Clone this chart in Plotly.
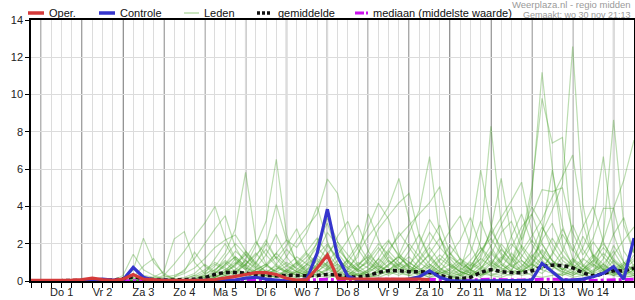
import pandas as pd
import plotly.graph_objects as go

# ---------------- data ----------------
start_time = "2022-11-30 18:00"
n_steps = 60
times = pd.date_range(start_time, periods=n_steps, freq="6h")

day_labels = ["Do 1", "Vr 2", "Za 3", "Zo 4", "Ma 5", "Di 6", "Wo 7",
              "Do 8", "Vr 9", "Za 10", "Zo 11", "Ma 12", "Di 13", "Wo 14"]
day_label_times = pd.date_range("2022-12-01 12:00", periods=14, freq="D")
midnights = pd.date_range("2022-12-01 00:00", periods=15, freq="D")

oper = [0.03, 0.03, 0.03, 0.03, 0.05, 0.08, 0.15, 0.08, 0.03, 0.1,
        0.35, 0.1, 0.05, 0.03, 0.03, 0.03, 0.03, 0.05, 0.08, 0.15,
        0.25, 0.35, 0.45, 0.45, 0.35, 0.15, 0.05, 0.08, 0.7, 1.39,
        0.15, 0.12, 0.1, 0.08, 0.1, 0.1, 0.08, 0.1, 0.1, 0.08,
        None, None, None, None, None, None, None, None, None, None,
        None, None, None, None, None, None, None, None, None, None]

controle = [0, 0, 0, 0, 0.02, 0.02, 0.05, 0.1, 0.05, 0.05,
            0.73, 0.2, 0.05, 0.02, 0.02, 0.02, 0.02, 0.03, 0.05, 0.05,
            0.05, 0.15, 0.2, 0.1, 0.03, 0, 0.02, 0.1, 1.5, 3.85,
            1.3, 0.25, 0.05, 0.03, 0.02, 0.02, 0.03, 0.1, 0.23, 0.55,
            0.2, 0.02, 0, 0, 0, 0, 0, 0, 0.02, 0.05,
            0.95, 0.5, 0.05, 0.05, 0.1, 0.23, 0.41, 0.77, 0.1, 2.3]

gemiddelde = [0.02, 0.02, 0.02, 0.02, 0.03, 0.03, 0.05, 0.04, 0.05, 0.12,
              0.2, 0.12, 0.08, 0.06, 0.06, 0.08, 0.1, 0.18, 0.35, 0.45,
              0.45, 0.42, 0.35, 0.3, 0.28, 0.3, 0.3, 0.28, 0.3, 0.35,
              0.32, 0.25, 0.22, 0.3, 0.45, 0.55, 0.55, 0.5, 0.5, 0.45,
              0.3, 0.18, 0.14, 0.2, 0.45, 0.6, 0.5, 0.45, 0.45, 0.55,
              0.75, 0.85, 0.82, 0.7, 0.45, 0.3, 0.4, 0.55, 0.55, 0.7]

mediaan = [0, 0, 0, 0, 0, 0, 0, 0, 0, 0,
           0, 0, 0, 0, 0, 0, 0, 0, 0.02, 0.05,
           0.05, 0.08, 0.05, 0.03, 0.05, 0.05, 0.03, 0.05, 0.08, 0.1,
           0.05, 0.03, 0.05, 0.08, 0.1, 0.1, 0.08, 0.05, 0.05, 0.1,
           0.05, 0.02, 0.02, 0.03, 0.08, 0.1, 0.08, 0.05, 0.05, 0.08,
           0.1, 0.1, 0.08, 0.05, 0.05, 0.03, 0.05, 0.05, 0.08, 0.1]

lid01 = [0, 0, 0, 0, 0, 0, 0.05, 0, 0, 0.3, 1.43, 0.6, 0.3, 0.1, 0, 0, 0.1, 0.3, 0.8, 1.5,
         2.8, 5.83, 2.2, 0.9, 0.4, 0.2, 0.1, 0.5, 1.2, 0.8, 0.3, 0.2, 0.6, 1.1, 1.8, 1.0, 0.6, 0.4, 0.9, 1.4,
         0.7, 0.3, 0.1, 0.4, 2.2, 8.3, 3.1, 1.2, 0.5, 0.9, 1.6, 0.8, 0.4, 1.1, 0.6, 0.3, 2.4, 8.64, 3.0, 1.5]
lid02 = [0, 0, 0, 0, 0, 0, 0, 0, 0, 0.1, 0.6, 2.3, 1.0, 0.4, 0.1, 0, 0, 0.1, 0.4, 0.9,
         1.3, 0.8, 1.9, 3.2, 6.53, 2.5, 0.9, 0.4, 0.2, 0.6, 1.1, 0.7, 0.3, 0.5, 1.2, 2.1, 1.4, 2.6, 3.8, 6.67,
         2.4, 0.8, 0.3, 0.2, 0.6, 1.5, 0.9, 0.5, 1.8, 4.6, 11.2, 6.1, 2.0, 0.8, 0.4, 0.2, 0.5, 1.1, 0.6, 0.3]
lid03 = [0, 0, 0, 0, 0, 0, 0, 0, 0, 0, 0.2, 0.8, 1.2, 0.3, 0.1, 0, 0, 0, 0.2, 0.5,
         0.9, 1.4, 0.8, 0.4, 0.6, 1.3, 2.2, 2.9, 3.6, 5.47, 4.7, 2.3, 0.8, 0.4, 0.3, 0.6, 1.0, 0.7, 0.4, 0.2,
         0.5, 1.3, 0.9, 0.4, 0.2, 0.6, 1.2, 2.0, 1.4, 0.8, 2.6, 3.8, 5.2, 12.57, 4.1, 1.3, 0.6, 0.3, 0.8, 1.2]
lid04 = [0, 0, 0, 0, 0, 0, 0, 0, 0, 0, 0, 0.1, 0.2, 0.5, 2.25, 2.65, 1.0, 0.4, 0.6, 1.1,
         0.7, 0.4, 1.0, 1.7, 0.9, 0.5, 0.3, 0.8, 1.4, 2.0, 1.2, 0.6, 1.5, 2.4, 3.1, 4.0, 5.5, 3.3, 1.6, 0.9,
         0.5, 0.3, 0.2, 0.6, 1.4, 2.7, 1.8, 1.0, 2.3, 5.0, 9.8, 7.4, 7.7, 2.0, 0.8, 0.4, 0.9, 1.6, 0.7, 0.4]
lid05 = [0, 0, 0, 0, 0, 0, 0, 0, 0, 0, 0, 0, 0.1, 0.2, 0.3, 0.5, 1.55, 0.8, 0.4, 0.9,
         1.6, 1.1, 0.6, 0.9, 1.5, 2.2, 1.8, 2.6, 4.0, 2.1, 0.9, 0.5, 0.3, 0.2, 0.5, 0.9, 1.3, 0.8, 0.5, 1.1,
         1.8, 1.2, 0.6, 2.4, 5.95, 3.0, 1.5, 0.9, 0.6, 1.3, 2.0, 1.1, 0.6, 0.9, 1.8, 3.2, 6.67, 2.5, 1.0, 0.6]
lid06 = [0, 0, 0, 0, 0, 0, 0, 0, 0, 0, 0, 0, 0.1, 0.3, 0.9, 1.6, 2.4, 3.1, 4.0, 2.3,
         1.2, 0.7, 0.5, 0.3, 0.6, 1.0, 0.7, 0.4, 0.9, 1.5, 2.1, 1.4, 0.8, 1.6, 2.8, 3.5, 4.2, 4.7, 2.4, 1.2,
         0.6, 0.4, 0.3, 0.8, 1.6, 2.5, 3.4, 4.3, 5.3, 2.6, 1.4, 0.8, 0.5, 0.3, 0.6, 1.1, 2.2, 3.9, 5.4, 7.56]
lid07 = [0, 0, 0, 0, 0, 0, 0, 0, 0, 0, 0.1, 0.2, 0.1, 0, 0.2, 0.6, 1.2, 2.0, 2.8, 3.5,
         1.8, 0.9, 1.4, 2.0, 1.2, 1.9, 2.8, 1.4, 0.6, 0.3, 0.5, 1.0, 1.8, 2.9, 4.17, 3.3, 1.5, 0.7, 0.4, 0.6,
         1.2, 0.8, 0.5, 0.3, 0.7, 1.1, 0.6, 0.9, 1.6, 2.4, 3.3, 4.5, 5.6, 6.76, 3.1, 1.2, 0.6, 0.4, 0.9, 1.7]
lid08 = [0, 0, 0, 0, 0, 0, 0, 0, 0, 0, 0, 0, 0, 0.1, 0.2, 0.4, 0.7, 1.2, 1.8, 2.2,
         2.47, 1.6, 0.9, 2.0, 4.1, 2.2, 1.0, 0.5, 0.3, 0.7, 1.4, 2.2, 3.0, 1.6, 0.8, 0.5, 0.9, 1.3, 0.7, 0.4,
         0.8, 1.5, 0.9, 0.6, 1.2, 2.8, 5.5, 2.4, 1.1, 0.6, 2.5, 5.95, 3.0, 1.2, 0.6, 0.3, 0.5, 0.8, 0.4, 0.3]
lid09 = [0, 0, 0, 0, 0, 0, 0, 0, 0, 0, 0, 0, 0, 0, 0, 0.1, 0.3, 0.6, 1.0, 0.7,
         0.4, 0.9, 1.5, 0.8, 0.5, 0.3, 0.6, 1.1, 1.8, 1.2, 0.7, 0.4, 0.3, 0.6, 1.0, 1.7, 2.4, 3.0, 3.6, 4.2,
         5.06, 2.5, 1.1, 0.6, 1.0, 1.9, 3.0, 4.0, 2.2, 3.5, 4.9, 4.8, 5.0, 2.6, 1.4, 2.3, 3.9, 3.9, 1.6, 0.8]
lid10 = [0, 0, 0, 0, 0, 0, 0, 0, 0, 0, 0, 0, 0, 0, 0, 0, 0.1, 0.4, 1.2, 2.0,
         1.1, 0.6, 0.4, 0.8, 1.5, 0.9, 0.5, 0.3, 0.9, 1.9, 1.2, 0.7, 1.3, 3.6, 2.2, 1.1, 0.6, 0.9, 1.5, 2.6,
         1.8, 2.7, 3.5, 1.9, 0.8, 0.5, 1.1, 1.8, 2.9, 3.6, 2.0, 1.1, 0.6, 1.0, 2.4, 1.4, 0.7, 0.4, 0.3, 0.6]
lid11 = [0, 0, 0, 0, 0, 0, 0, 0, 0, 0, 0, 0, 0, 0, 0, 0, 0.2, 0.5, 0.9, 0.6,
         0.3, 1.2, 2.1, 1.4, 0.8, 0.5, 1.0, 1.6, 2.3, 1.5, 0.8, 0.5, 0.9, 1.3, 0.7, 1.5, 2.6, 1.8, 1.0, 0.6,
         0.4, 0.7, 1.2, 0.8, 1.6, 2.3, 1.4, 0.8, 0.5, 1.2, 2.2, 3.1, 1.7, 0.9, 0.6, 1.3, 2.0, 1.2, 0.7, 1.8]
lid12 = [0, 0, 0, 0, 0, 0, 0, 0, 0, 0, 0, 0, 0, 0, 0, 0.1, 0.3, 0.2, 0.5, 1.3,
         2.0, 1.4, 0.7, 0.4, 0.9, 1.7, 1.1, 0.6, 1.5, 2.6, 1.9, 1.0, 0.5, 0.8, 1.6, 2.2, 1.3, 0.7, 2.0, 3.3,
         2.4, 1.0, 0.5, 0.3, 0.7, 1.4, 2.6, 3.2, 1.8, 0.9, 0.6, 1.5, 2.8, 1.7, 0.9, 0.5, 1.2, 2.5, 3.4, 1.5]
lid13 = [0, 0, 0, 0, 0, 0, 0, 0, 0, 0, 0, 0, 0, 0, 0.1, 0.2, 0.4, 0.9, 0.5, 0.3,
         0.6, 1.1, 0.7, 1.4, 2.5, 1.3, 0.6, 0.4, 0.8, 1.3, 2.4, 3.2, 1.7, 0.9, 0.5, 0.8, 1.4, 1.0, 0.6, 0.4,
         1.1, 1.9, 1.2, 0.6, 0.4, 0.9, 1.7, 1.1, 2.6, 4.0, 3.0, 1.6, 0.9, 0.5, 1.1, 2.1, 1.3, 0.7, 0.4, 0.9]
lid14 = [0, 0, 0, 0, 0, 0, 0, 0, 0, 0, 0, 0, 0, 0, 0, 0, 0, 0.2, 0.6, 1.0,
         0.5, 0.3, 0.6, 0.9, 0.5, 0.8, 1.3, 0.9, 2.1, 3.1, 1.5, 0.8, 0.6, 1.2, 2.0, 1.4, 0.8, 1.6, 2.5, 1.3,
         0.7, 0.4, 0.9, 1.5, 3.2, 1.8, 1.0, 0.6, 1.3, 2.2, 1.4, 0.8, 1.6, 3.0, 1.7, 0.9, 0.5, 1.4, 2.2, 2.9]
lid15 = [0, 0, 0, 0, 0, 0, 0, 0, 0, 0, 0, 0, 0, 0, 0, 0, 0.1, 0.3, 0.2, 0.4,
         0.9, 1.6, 1.0, 0.5, 0.3, 0.6, 0.4, 0.9, 1.4, 0.8, 0.5, 1.2, 2.0, 1.1, 0.6, 0.4, 0.8, 0.5, 1.1, 1.8,
         1.0, 0.5, 0.3, 0.7, 1.2, 0.8, 2.0, 1.3, 0.7, 1.6, 2.9, 2.0, 1.1, 0.7, 0.4, 0.8, 1.5, 0.9, 0.5, 0.7]
lid16 = [0, 0, 0, 0, 0, 0, 0, 0, 0, 0, 0, 0, 0, 0, 0, 0, 0, 0.1, 0.4, 0.8,
         1.3, 0.8, 0.4, 0.3, 0.7, 0.5, 0.9, 1.5, 0.9, 0.6, 0.4, 0.3, 0.7, 1.0, 0.6, 1.3, 0.8, 0.5, 0.3, 0.8,
         1.4, 0.9, 0.5, 1.1, 1.8, 1.2, 0.7, 1.5, 0.9, 0.5, 1.2, 2.3, 1.4, 0.8, 0.5, 0.9, 0.6, 1.9, 1.0, 0.5]
lid17 = [0, 0, 0, 0, 0, 0, 0, 0, 0, 0, 0, 0, 0, 0, 0, 0, 0, 0, 0.1, 0.3,
         0.2, 0.5, 0.3, 0.6, 0.4, 0.2, 0.5, 0.3, 0.7, 1.0, 0.6, 0.3, 0.2, 0.5, 0.8, 0.5, 0.3, 0.6, 0.4, 0.2,
         0.3, 0.6, 0.4, 0.9, 0.6, 0.3, 0.5, 0.8, 1.1, 0.7, 0.4, 0.9, 0.6, 1.2, 0.8, 0.4, 0.6, 0.3, 0.5, 0.4]
lid18 = [0, 0, 0, 0, 0, 0, 0, 0, 0, 0, 0, 0, 0, 0, 0, 0, 0, 0, 0, 0.1,
         0.3, 0.2, 0.4, 0.2, 0.3, 0.5, 0.3, 0.2, 0.4, 0.6, 0.9, 0.5, 0.4, 0.2, 0.3, 0.6, 0.9, 0.6, 0.3, 0.5,
         0.2, 0.1, 0.3, 0.5, 0.3, 0.6, 0.4, 0.3, 0.5, 0.9, 0.6, 0.4, 0.3, 0.5, 0.3, 0.6, 0.9, 0.5, 0.3, 0.2]
lid19 = [0, 0, 0, 0, 0, 0, 0, 0, 0, 0, 0, 0, 0, 0, 0, 0, 0, 0.1, 0.3, 0.6,
         1.0, 0.6, 1.3, 2.2, 1.2, 0.6, 0.3, 0.2, 0.5, 1.0, 1.7, 1.1, 0.6, 0.4, 0.9, 1.6, 1.0, 0.5, 0.8, 1.5,
         2.3, 1.4, 2.2, 3.4, 1.8, 0.9, 0.5, 1.0, 1.9, 1.2, 0.7, 1.4, 2.5, 1.6, 2.9, 4.0, 2.1, 1.0, 0.6, 1.1]
lid20 = [0, 0, 0, 0, 0, 0, 0, 0, 0, 0, 0, 0, 0, 0, 0, 0, 0, 0, 0.2, 0.5,
         0.8, 1.5, 0.9, 0.5, 0.3, 0.4, 0.8, 1.3, 2.0, 3.4, 2.1, 1.0, 0.5, 0.3, 0.6, 1.1, 0.7, 0.4, 1.2, 2.0,
         3.0, 1.5, 0.7, 0.4, 0.9, 1.6, 1.0, 2.4, 3.6, 2.0, 1.1, 0.6, 1.3, 0.8, 0.5, 1.0, 1.8, 1.1, 0.6, 1.4]
lid21 = [0, 0, 0, 0, 0, 0, 0, 0, 0, 0, 0, 0, 0, 0, 0, 0, 0, 0.1, 0.2, 0.4,
         0.6, 0.4, 0.2, 0.5, 0.8, 0.4, 0.2, 0.6, 1.1, 0.7, 0.4, 0.6, 1.0, 0.7, 0.4, 0.9, 1.3, 0.8, 0.5, 0.3,
         0.6, 0.9, 0.5, 0.3, 0.5, 1.0, 0.7, 0.4, 0.8, 1.4, 0.9, 0.5, 0.3, 0.7, 1.2, 0.8, 0.4, 0.6, 1.0, 0.5]
lid22 = [0, 0, 0, 0, 0, 0, 0, 0, 0, 0, 0, 0, 0, 0, 0, 0, 0.1, 0.2, 0.1, 0.3,
         0.5, 0.9, 0.5, 0.3, 0.2, 0.6, 1.0, 0.5, 0.3, 0.4, 0.7, 1.1, 0.6, 0.3, 0.5, 0.3, 0.6, 1.0, 0.6, 0.9,
         0.5, 0.3, 0.6, 1.0, 0.7, 0.4, 0.3, 0.6, 0.4, 0.7, 1.3, 0.8, 0.5, 0.3, 0.6, 1.1, 0.6, 0.4, 0.3, 0.6]
lid23 = [0, 0, 0, 0, 0, 0, 0, 0, 0, 0.1, 0.2, 0.1, 0, 0, 0, 0, 0, 0, 0.1, 0.2,
         0.4, 0.3, 0.6, 0.4, 0.2, 0.3, 0.5, 0.9, 0.6, 0.3, 0.2, 0.4, 0.3, 0.6, 1.2, 0.7, 0.4, 0.3, 0.5, 0.8,
         0.4, 0.2, 0.4, 0.6, 0.3, 0.5, 0.9, 0.5, 0.3, 0.4, 0.7, 1.0, 0.6, 0.4, 0.3, 0.5, 0.8, 0.5, 0.9, 0.6]
lid24 = [0, 0, 0, 0, 0, 0, 0, 0, 0, 0, 0, 0, 0, 0, 0, 0, 0, 0, 0, 0.1,
         0.2, 0.1, 0.2, 0.3, 0.2, 0.1, 0.2, 0.4, 0.3, 0.2, 0.3, 0.2, 0.4, 0.3, 0.2, 0.4, 0.5, 0.3, 0.2, 0.4,
         0.3, 0.2, 0.1, 0.2, 0.4, 0.3, 0.2, 0.4, 0.6, 0.3, 0.2, 0.3, 0.4, 0.2, 0.3, 0.2, 0.4, 0.3, 0.2, 0.3]
lid25 = [0, 0, 0, 0, 0, 0, 0, 0, 0, 0, 0.1, 0.3, 0.2, 0.1, 0, 0, 0, 0, 0.2, 0.5,
         1.2, 0.7, 0.4, 0.8, 1.3, 0.8, 0.5, 0.3, 0.5, 0.9, 0.5, 0.3, 0.8, 1.4, 0.9, 0.5, 1.2, 2.0, 1.3, 0.7,
         0.4, 0.6, 1.0, 0.6, 0.3, 0.7, 1.3, 0.8, 0.5, 1.0, 1.7, 1.1, 0.7, 0.4, 0.8, 1.4, 0.9, 0.5, 0.3, 0.8]

leden = [lid01, lid02, lid03, lid04, lid05, lid06, lid07, lid08, lid09, lid10,
         lid11, lid12, lid13, lid14, lid15, lid16, lid17, lid18, lid19, lid20,
         lid21, lid22, lid23, lid24, lid25]

# ---------------- style ----------------
FONT = "Liberation Sans, Arial, sans-serif"
RED = "#d43a3a"
BLUE = "#3535cc"
MAGENTA = "#cc11ee"
MEMBER = "rgba(70,160,40,0.36)"
GRID = "#dcdcdc"
DARK = "#555555"

# plot area in pixels (for placing header elements)
L, R, T, B = 31, 634, 20, 281


def px(xp):
    return (xp - L) / (R - L)


def py(yp):
    return (B - yp) / (B - T)


fig = go.Figure()

for m in leden:
    fig.add_trace(go.Scatter(x=times, y=m, mode="lines",
                             line=dict(color=MEMBER, width=1.2),
                             showlegend=False, hoverinfo="skip"))

fig.add_trace(go.Scatter(x=times, y=mediaan, mode="lines",
                         line=dict(color=MAGENTA, width=3, dash="dashdot"),
                         showlegend=False))
fig.add_trace(go.Scatter(x=times, y=gemiddelde, mode="lines",
                         line=dict(color="#111111", width=3.5, dash="4px,3px",
                                   shape="spline", smoothing=1.0),
                         showlegend=False))
fig.add_trace(go.Scatter(x=times, y=controle, mode="lines",
                         line=dict(color=BLUE, width=3.2),
                         showlegend=False))
fig.add_trace(go.Scatter(x=times, y=oper, mode="lines",
                         line=dict(color=RED, width=3.2),
                         showlegend=False))

shapes = []
for t in midnights:
    shapes.append(dict(type="line", xref="x", yref="paper", x0=t, x1=t, y0=0, y1=1,
                       line=dict(color=DARK, width=1.3), layer="between"))

# manual legend
legend_items = [
    (28, 44, 47, "Oper.", dict(color=RED, width=3.5)),
    (99, 115, 118, "Controle", dict(color=BLUE, width=3.5)),
    (184, 199, 202, "Leden", dict(color="#b9dcaa", width=1.5)),
    (257, 272, 276, "gemiddelde", dict(color="#111111", width=3.5, dash="3px,2px")),
    (355, 368, 371, "mediaan (middelste waarde)", dict(color=MAGENTA, width=3, dash="9px,2px,2px,2px")),
]
annotations = []
for x0, x1, xt, txt, ln in legend_items:
    shapes.append(dict(type="line", xref="paper", yref="paper",
                       x0=px(x0), x1=px(x1), y0=py(13), y1=py(13), line=ln))
    annotations.append(dict(xref="paper", yref="paper", x=px(xt), y=py(13),
                            xanchor="left", yanchor="middle", showarrow=False,
                            text=txt, font=dict(family=FONT, size=11, color="#111")))

annotations.append(dict(xref="paper", yref="paper", x=px(633), y=py(5),
                        xanchor="right", yanchor="middle", showarrow=False,
                        text="Weerplaza.nl - regio midden",
                        font=dict(family=FONT, size=9.5, color="#9a9a9a")))
annotations.append(dict(xref="paper", yref="paper", x=px(633), y=py(14.5),
                        xanchor="right", yanchor="middle", showarrow=False,
                        text="Gemaakt: wo 30 nov 21:13",
                        font=dict(family=FONT, size=9, color="#9a9a9a")))

fig.update_layout(
    width=635, height=300,
    margin=dict(l=L, r=635 - R, t=T, b=300 - B),
    paper_bgcolor="white", plot_bgcolor="white",
    showlegend=False,
    shapes=shapes, annotations=annotations,
    xaxis=dict(
        type="date", automargin=False,
        range=[times[0], times[-1]],
        tickmode="array", tickvals=day_label_times, ticktext=day_labels,
        ticks="", ticklen=0,
        showgrid=True, gridcolor=GRID, gridwidth=1,
        minor=dict(tickmode="array", tickvals=times, ticks="outside", ticklen=5,
                   tickcolor="black", tickwidth=1, showgrid=True, gridcolor=GRID, gridwidth=1),
        showline=True, linecolor="black", linewidth=1.5, mirror=True,
        tickfont=dict(family=FONT, size=11, color="#222"),
        zeroline=False, fixedrange=True,
    ),
    yaxis=dict(
        automargin=False,
        range=[0, 14], tickmode="linear", tick0=0, dtick=2,
        ticks="outside", ticklen=4, tickcolor="black",
        showgrid=True, gridcolor=GRID, gridwidth=1,
        showline=True, linecolor="black", linewidth=1.5, mirror=True,
        tickfont=dict(family=FONT, size=11, color="#222"),
        zeroline=False, fixedrange=True,
    ),
)

fig.write_html("out.html")
